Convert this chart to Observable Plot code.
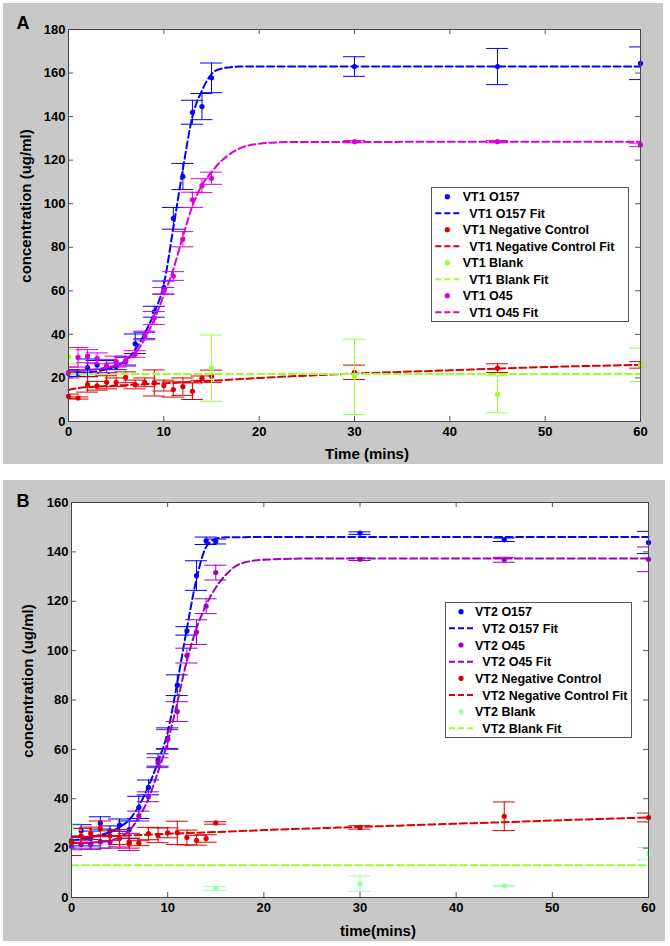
<!DOCTYPE html>
<html>
<head>
<meta charset="utf-8">
<script src="https://cdn.jsdelivr.net/npm/d3@7"></script>
<script src="https://cdn.jsdelivr.net/npm/@observablehq/plot@0.6"></script>
<style>
  body { margin: 0; background: #ffffff; }
  #root { position: relative; width: 670px; height: 946px; font-family: "Liberation Sans", Arial, sans-serif; }
  .panel { position: absolute; background: #c8c8c8; }
  .lbl { position: absolute; font-weight: bold; font-size: 15px; color: #000; white-space: nowrap; }
  .letter { position: absolute; font-weight: bold; font-size: 18px; color: #000; }
</style>
</head>
<body>
<div id="root"></div>
<script>
// ---------------- DATA ----------------
const xTicks = [0, 10, 20, 30, 40, 50, 60];
const yTicksA = [0, 20, 40, 60, 80, 100, 120, 140, 160, 180];
const yTicksB = [0, 20, 40, 60, 80, 100, 120, 140, 160];

const times = [0, 1, 2, 3, 4, 5, 6, 7, 8, 9, 10, 11, 12, 13, 14, 15, 30, 45, 60];
const blankTimes = [0, 15, 30, 45, 60];

// Panel A (VT1)
const a_o157 = [22.2, 22.2, 24.7, 26, 25, 25.3, 27.5, 35.7, 39.5, 50.4, 61.5, 93.3, 112.5, 142, 144.6, 157.8, 163, 163, 164.5];
const a_o157_err = [1.5, 1.5, 4, 2, 3, 1.5, 2, 4.5, 1.5, 2.5, 3, 5, 6, 5.5, 6, 6.8, 4.5, 8.3, 7.5];
const a_o45 = [22.5, 29.5, 30, 29, 25.5, 27.5, 28, 31, 39.5, 47.5, 60, 66.8, 83.7, 101.8, 108.3, 111.7, 128.5, 128.5, 127];
const a_o45_err = [2.5, 4.5, 3, 2.5, 3, 2.5, 2, 1.5, 2, 3, 1.5, 2, 3.5, 3.5, 3.2, 2.8, 0.5, 0.5, 0.8];
const a_neg = [11.6, 10.8, 17, 16.4, 18, 18, 20.3, 17, 18, 17.7, 16.5, 14.7, 16, 13.9, 19.9, 20.8, 22.6, 24.5, 26];
const a_neg_err = [1, 0.5, 3.5, 2, 3, 2, 2.5, 2, 2, 6, 2.5, 3.5, 4, 3.8, 1, 2.8, 3.3, 2, 1.5];
const a_blank = [29.8, 24.5, 20.5, 12.5, 26];
const a_blank_err = [3.3, 15.2, 17.3, 8.5, 7.7];

const a_o157_fit_t = [0, 2, 4, 5, 6, 7, 8, 9, 10, 11, 12, 13, 14, 15, 16, 18, 20, 60];
const a_o157_fit = [22, 22.5, 24, 25.5, 28, 33, 40.5, 50, 63, 89, 116, 140, 152, 159.5, 162, 163, 163, 163];
const a_o45_fit_t = [0, 3, 5, 6, 7, 8, 9, 10, 11, 12, 13, 14, 15, 16, 17, 18, 20, 23, 60];
const a_o45_fit = [23, 24, 26, 28, 31.5, 38, 47, 58, 70, 85, 99, 108.5, 114.5, 119.5, 123, 125.5, 127.5, 128.3, 128.5];
const a_neg_fit_t = [0, 1, 3, 6, 10, 15, 20, 30, 40, 45, 50, 60];
const a_neg_fit = [14.5, 15.3, 16, 16.7, 17.5, 18.7, 20, 22, 23.5, 24.3, 25, 26];
const a_blank_fit_t = [0, 60];
const a_blank_fit = [21.8, 21.8];

// Panel B (VT2)
const b_o157 = [22.9, 27, 23.9, 30.2, 27, 29.3, 27.5, 36.5, 44.6, 55.7, 64.5, 86, 108, 130.4, 144.5, 144.2, 147.6, 144.9, 143.8];
const b_o157_err = [2, 2.5, 3, 2.5, 2, 2.5, 3.5, 4.5, 3, 2.5, 4.2, 4.2, 1.7, 6, 1.5, 1, 0.5, 0.7, 4.5];
const b_o45 = [20.8, 21.5, 21.5, 22.5, 22.5, 24, 22.5, 33, 40.8, 54.6, 64, 75.3, 98, 107.5, 118, 131.6, 137, 136.8, 137];
const b_o45_err = [1.5, 1.5, 2, 2.5, 2.5, 3.5, 3.5, 2, 2, 2, 4, 4, 3, 5, 3, 3, 0.5, 1, 5];
const b_neg = [22.5, 25, 26, 28, 25, 24.5, 22, 22, 25.9, 25.2, 26.2, 26.2, 24.3, 23.2, 23.9, 30.2, 28.4, 32.9, 32.4];
const b_neg_err = [5.5, 3, 2.5, 3, 2, 3, 2, 1, 2.5, 3, 2, 4.7, 3, 2, 1.5, 0.5, 0.7, 5.8, 1.8];
const b_blank = [28.6, 3.6, 5.6, 4.7, 17.8];
const b_blank_err = [1.3, 0.8, 3.1, 0.3, 2.5];

const b_o157_fit_t = [0, 2, 4, 5, 6, 7, 8, 9, 10, 11, 12, 13, 14, 15, 16, 20, 60];
const b_o157_fit = [23, 24.5, 26.5, 28.5, 31.5, 37, 45, 55, 67, 87, 109, 129, 142, 145.3, 145.9, 146, 146];
const b_o45_fit_t = [0, 3, 5, 6, 7, 8, 9, 10, 11, 12, 13, 14, 15, 16, 17, 18, 20, 25, 60];
const b_o45_fit = [22, 22.5, 24.5, 27, 32.5, 40, 51, 63, 79, 96, 109, 118.5, 125.5, 130.5, 134, 135.7, 136.8, 137.3, 137.3];
const b_neg_fit_t = [0, 5, 10, 15, 20, 30, 40, 45, 50, 60];
const b_neg_fit = [24.5, 25, 25.8, 26.5, 27.3, 28.6, 29.9, 30.5, 31.2, 32.4];
const b_blank_fit_t = [0, 60];
const b_blank_fit = [13.1, 13.1];

// ---------------- STYLE ----------------
const C = {
  blue: "#0000ff", magenta: "#dd00dd", purple: "#a000c0", red: "#dd0000",
  greenA: "#99ff33", greenBdot: "#99ffaa", greenBline: "#99ff33"
};
const CAP = 1.15;
const DASH = "7,3.5";

function rows(ts, vs, es) { return ts.map((t, i) => ({t, v: vs[i], e: es ? es[i] : 0})); }

function seriesMarks(ts, vs, es, color) {
  const r = rows(ts, vs, es);
  return [
    Plot.ruleX(r, {x: "t", y1: d => d.v - d.e, y2: d => d.v + d.e, stroke: color, strokeWidth: 1, clip: true}),
    Plot.ruleY(r, {y: d => d.v - d.e, x1: d => d.t - CAP, x2: d => d.t + CAP, stroke: color, strokeWidth: 1, clip: true}),
    Plot.ruleY(r, {y: d => d.v + d.e, x1: d => d.t - CAP, x2: d => d.t + CAP, stroke: color, strokeWidth: 1, clip: true}),
    Plot.dot(r, {x: "t", y: "v", r: 2.6, fill: color, stroke: "none"})
  ];
}
function fitMark(ts, vs, color) {
  return Plot.line(rows(ts, vs), {x: "t", y: "v", stroke: color, strokeWidth: 2, strokeDasharray: DASH, curve: "monotone-x"});
}

function panel({W, H, mL, mR, mT, mB, yMax, yTicks, marks}) {
  const innerW = W - mL - mR, innerH = H - mT - mB;
  return Plot.plot({
    width: W, height: H, marginLeft: mL, marginRight: mR, marginTop: mT, marginBottom: mB,
    style: {background: "transparent", fontFamily: '"Liberation Sans", Arial, sans-serif', fontSize: "13px", fontWeight: "bold", color: "#000"},
    x: {domain: [0, 60]},
    y: {domain: [0, yMax]},
    marks: [
      Plot.frame({fill: "white", stroke: "none"}),
      ...marks,
      Plot.tickX(xTicks, {x: d => d, insetTop: innerH - 5, stroke: "#555"}),
      Plot.tickX(xTicks, {x: d => d, insetBottom: innerH - 5, stroke: "#555"}),
      Plot.tickY(yTicks, {y: d => d, insetRight: innerW - 5, stroke: "#555"}),
      Plot.tickY(yTicks, {y: d => d, insetLeft: innerW - 5, stroke: "#555"}),
      Plot.frame({stroke: "#444", strokeWidth: 1}),
      Plot.axisX({ticks: xTicks, tickSize: 0, tickPadding: 5, label: null, fill: "#000"}),
      Plot.axisY({ticks: yTicks, tickSize: 0, tickPadding: 3, label: null, fill: "#000"})
    ]
  });
}

const root = document.getElementById("root");

function addPanel(left, top, w, h, svg) {
  const d = document.createElement("div");
  d.className = "panel";
  d.style.left = left + "px"; d.style.top = top + "px";
  d.style.width = w + "px"; d.style.height = h + "px";
  d.appendChild(svg);
  root.appendChild(d);
}
function addText(cls, text, x, y, rotate) {
  const s = document.createElement("div");
  s.className = cls;
  s.textContent = text;
  s.style.left = x + "px"; s.style.top = y + "px";
  s.style.transform = "translate(-50%,-50%)" + (rotate ? " rotate(-90deg)" : "");
  root.appendChild(s);
}
function addLegend(left, top, w, h, entries, rowY0, rowDy, symX, textX, fitTextX) {
  const ns = "http://www.w3.org/2000/svg";
  const svg = document.createElementNS(ns, "svg");
  svg.setAttribute("width", w); svg.setAttribute("height", h);
  svg.style.position = "absolute"; svg.style.left = left + "px"; svg.style.top = top + "px";
  const rect = document.createElementNS(ns, "rect");
  rect.setAttribute("x", 0.5); rect.setAttribute("y", 0.5);
  rect.setAttribute("width", w - 1); rect.setAttribute("height", h - 1);
  rect.setAttribute("fill", "white"); rect.setAttribute("stroke", "#555");
  svg.appendChild(rect);
  entries.forEach((en, i) => {
    const cy = rowY0 + i * rowDy;
    if (en.type === "dot") {
      const c = document.createElementNS(ns, "circle");
      c.setAttribute("cx", symX); c.setAttribute("cy", cy); c.setAttribute("r", 2.6);
      c.setAttribute("fill", en.color);
      svg.appendChild(c);
    } else {
      const l = document.createElementNS(ns, "line");
      l.setAttribute("x1", symX - 12); l.setAttribute("x2", symX + 12);
      l.setAttribute("y1", cy); l.setAttribute("y2", cy);
      l.setAttribute("stroke", en.color); l.setAttribute("stroke-width", 2);
      l.setAttribute("stroke-dasharray", "6,3");
      svg.appendChild(l);
    }
    const t = document.createElementNS(ns, "text");
    t.setAttribute("x", en.type === "dot" ? textX : fitTextX);
    t.setAttribute("y", cy);
    t.setAttribute("dy", "0.36em");
    t.setAttribute("font-family", '"Liberation Sans", Arial, sans-serif');
    t.setAttribute("font-size", "12.5px");
    t.setAttribute("font-weight", "bold");
    t.textContent = en.label;
    svg.appendChild(t);
  });
  root.appendChild(svg);
}

// ---------- Panel A ----------
const svgA = panel({
  W: 660, H: 461, mL: 65, mR: 23, mT: 26, mB: 43, yMax: 180, yTicks: yTicksA,
  marks: [
    ...seriesMarks(times, a_o157, a_o157_err, C.blue),
    fitMark(a_o157_fit_t, a_o157_fit, C.blue),
    ...seriesMarks(times, a_neg, a_neg_err, C.red),
    fitMark(a_neg_fit_t, a_neg_fit, C.red),
    ...seriesMarks(blankTimes, a_blank, a_blank_err, C.greenA),
    fitMark(a_blank_fit_t, a_blank_fit, C.greenA),
    ...seriesMarks(times, a_o45, a_o45_err, C.magenta),
    fitMark(a_o45_fit_t, a_o45_fit, C.magenta)
  ]
});
addPanel(3, 3, 660, 461, svgA);

// ---------- Panel B ----------
const svgB = panel({
  W: 662, H: 461, mL: 68, mR: 17, mT: 22, mB: 44, yMax: 160, yTicks: yTicksB,
  marks: [
    ...seriesMarks(times, b_o157, b_o157_err, C.blue),
    fitMark(b_o157_fit_t, b_o157_fit, C.blue),
    ...seriesMarks(times, b_o45, b_o45_err, C.purple),
    fitMark(b_o45_fit_t, b_o45_fit, C.purple),
    ...seriesMarks(times, b_neg, b_neg_err, C.red),
    fitMark(b_neg_fit_t, b_neg_fit, C.red),
    ...seriesMarks(blankTimes, b_blank, b_blank_err, C.greenBdot),
    fitMark(b_blank_fit_t, b_blank_fit, C.greenBline)
  ]
});
addPanel(3, 480, 662, 461, svgB);

// ---------- Labels ----------
addText("letter", "A", 23, 23);
addText("letter", "B", 23, 501);
addText("lbl", "concentration (ug/ml)", 25, 206, true);
addText("lbl", "Time (mins)", 367, 453);
addText("lbl", "concentration (ug/ml)", 27, 681, true);
addText("lbl", "time(mins)", 378, 930);

// ---------- Legends ----------
addLegend(431, 187, 198, 135, [
  {type: "dot", color: C.blue, label: "VT1 O157"},
  {type: "line", color: C.blue, label: "VT1 O157 Fit"},
  {type: "dot", color: C.red, label: "VT1 Negative Control"},
  {type: "line", color: C.red, label: "VT1 Negative Control Fit"},
  {type: "dot", color: C.greenA, label: "VT1 Blank"},
  {type: "line", color: C.greenA, label: "VT1 Blank Fit"},
  {type: "dot", color: C.magenta, label: "VT1 O45"},
  {type: "line", color: C.magenta, label: "VT1 O45 Fit"}
], 9.7, 16.5, 16.3, 31.7, 38.3);

addLegend(445, 602, 187, 136, [
  {type: "dot", color: C.blue, label: "VT2 O157"},
  {type: "line", color: C.blue, label: "VT2 O157 Fit"},
  {type: "dot", color: C.purple, label: "VT2 O45"},
  {type: "line", color: C.purple, label: "VT2 O45 Fit"},
  {type: "dot", color: C.red, label: "VT2 Negative Control"},
  {type: "line", color: C.red, label: "VT2 Negative Control Fit"},
  {type: "dot", color: C.greenBdot, label: "VT2 Blank"},
  {type: "line", color: C.greenBline, label: "VT2 Blank Fit"}
], 9.7, 16.66, 16, 30, 37.3);
</script>
</body>
</html>
